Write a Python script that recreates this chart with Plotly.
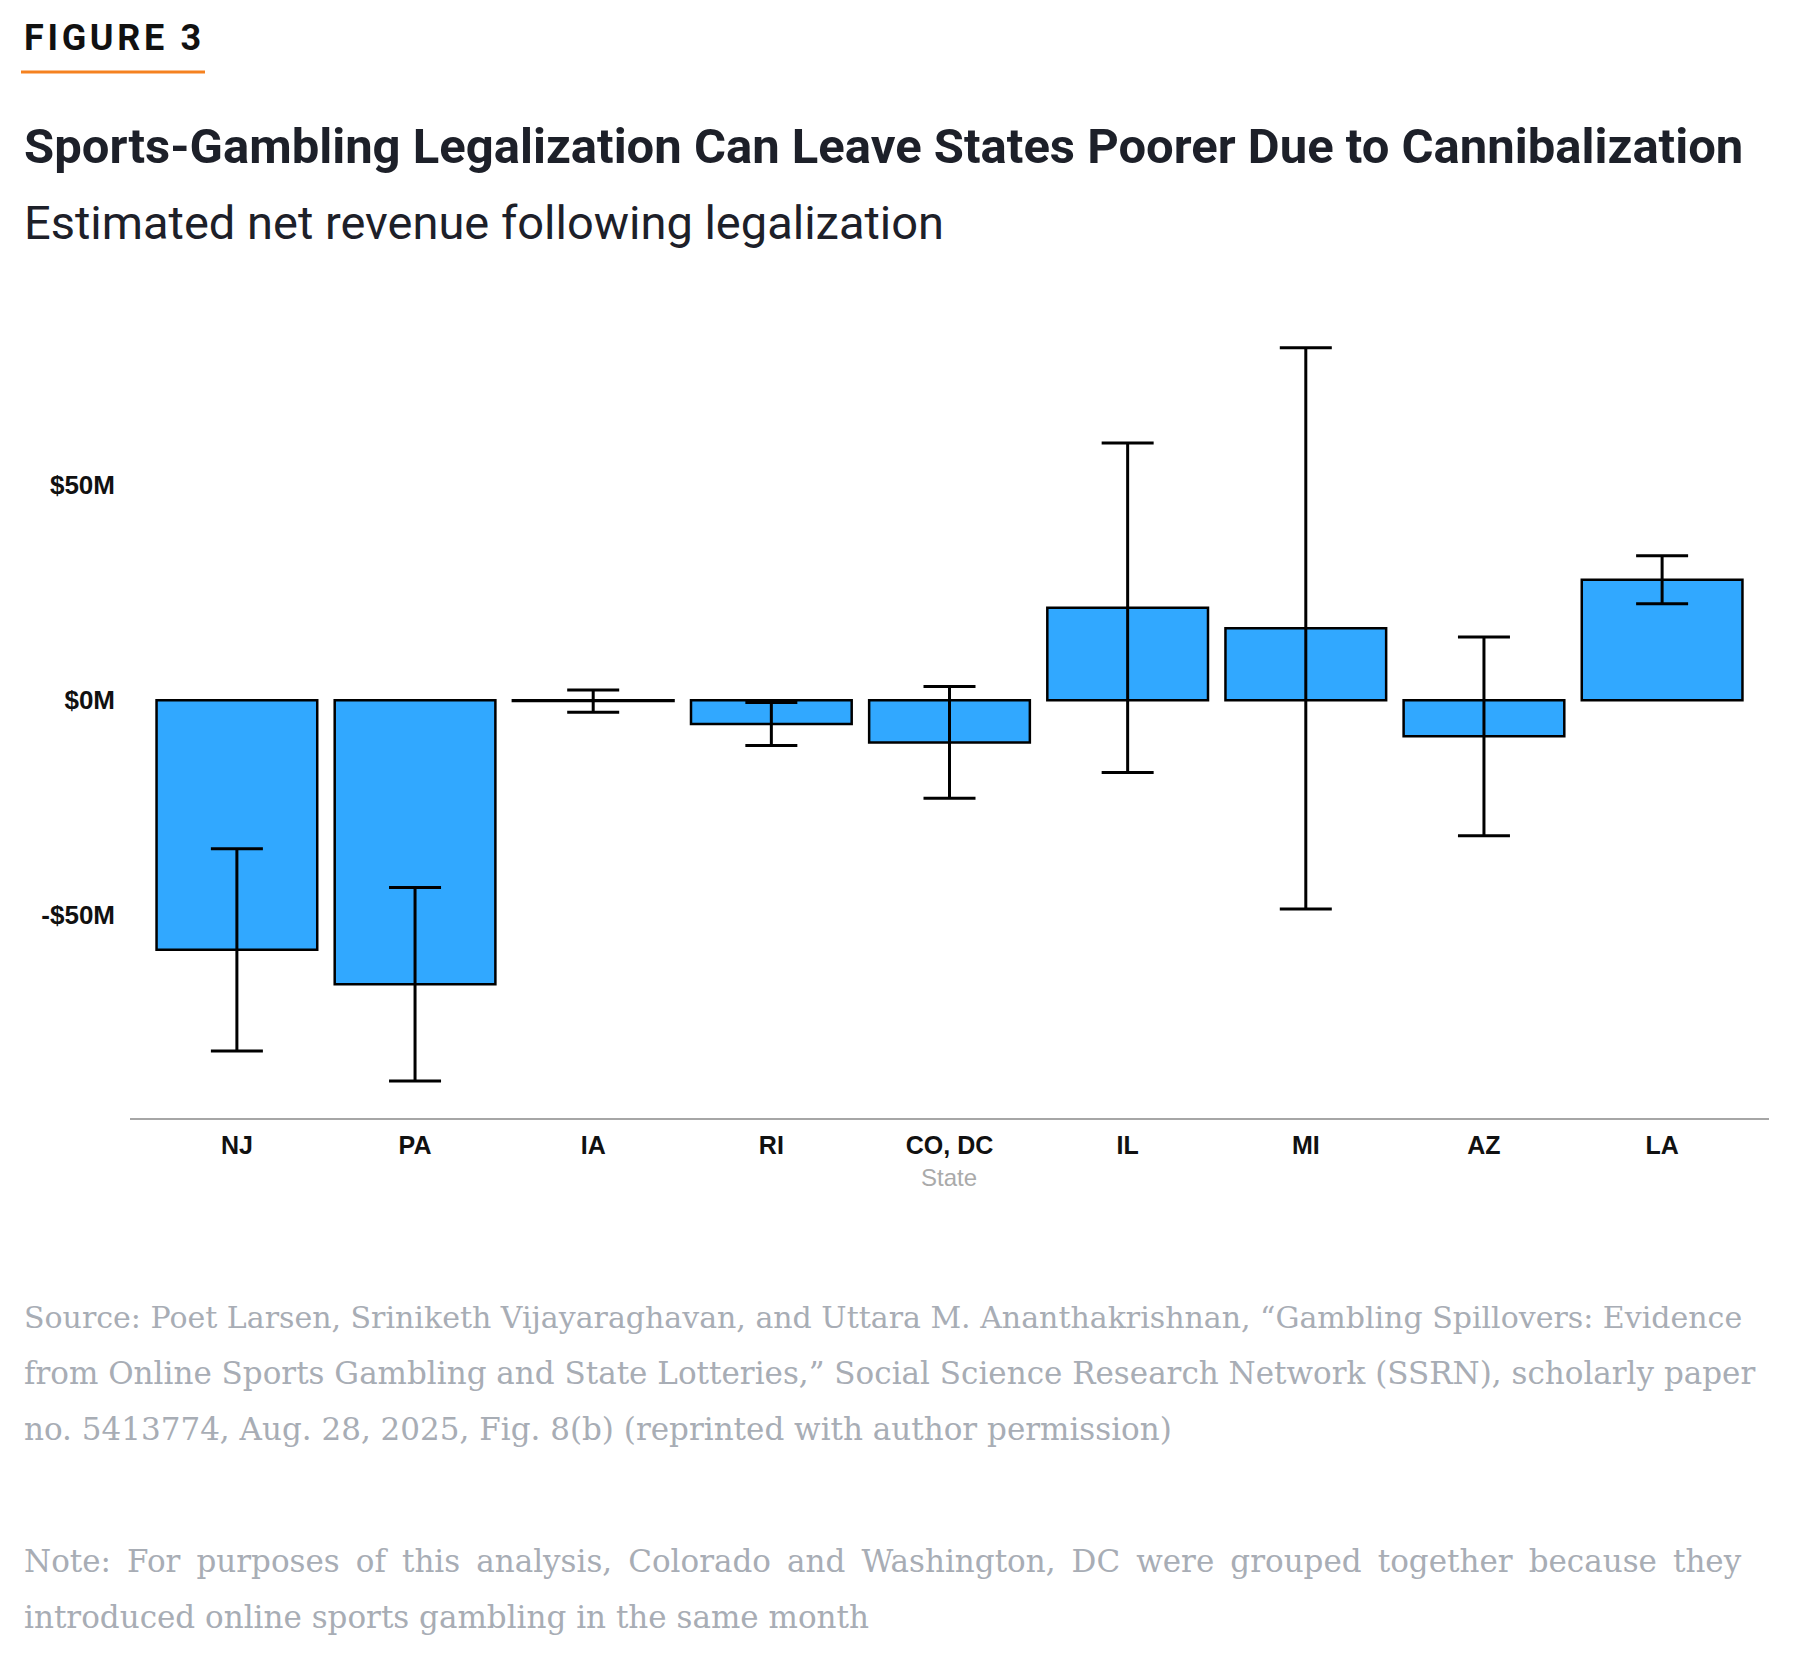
import plotly.graph_objects as go

states = ["NJ", "PA", "IA", "RI", "CO, DC", "IL", "MI", "AZ", "LA"]
net_revenue_m = [-58.0, -66.0, -0.2, -5.5, -9.8, 21.5, 16.7, -8.4, 28.0]
ci_halfwidth_m = [23.5, 22.5, 2.6, 5.0, 13.0, 38.3, 65.2, 23.1, 5.6]
ytick_vals = [-50, 0, 50]
ytick_text = ["-$50M", "$0M", "$50M"]

W, H = 1800, 1660
L, R = 130, 1769
T, B = 313, 1118


def px(x):
    return (x - L) / (R - L)


def py(y):
    return (B - y) / (B - T)


fig = go.Figure()
fig.add_trace(go.Bar(
    x=states,
    y=net_revenue_m,
    marker=dict(color="#31A8FF", line=dict(color="#000000", width=2.5)),
    error_y=dict(type="data", array=ci_halfwidth_m, visible=True,
                 color="#000000", thickness=3, width=26),
    hoverinfo="x+y",
))

HS = "\u200a"
fig_label = HS.join(list("FIGURE 3"))

annotations = [
    dict(text=f"<b>{fig_label}</b>", x=px(22), y=py(38), xanchor="left", yanchor="middle",
         font=dict(family="Roboto", size=36, color="#111111")),
    dict(text="<b>Sports-Gambling Legalization Can Leave States Poorer Due to Cannibalization</b>",
         x=px(22), y=py(147), xanchor="left", yanchor="middle",
         font=dict(family="Roboto", size=49, color="#1d2029")),
    dict(text="Estimated net revenue following legalization",
         x=px(22), y=py(222), xanchor="left", yanchor="middle",
         font=dict(family="Roboto", size=47, color="#1d2029")),
    dict(text="State", x=px(949), y=py(1177), xanchor="center", yanchor="middle",
         font=dict(family="Liberation Sans, Arial", size=24, color="#AAAAAA")),
]

source_lines = [
    "Source: Poet Larsen, Sriniketh Vijayaraghavan, and Uttara M. Ananthakrishnan, \u201cGambling Spillovers: Evidence",
    "from Online Sports Gambling and State Lotteries,\u201d Social Science Research Network (SSRN), scholarly paper",
    "no. 5413774, Aug. 28, 2025, Fig. 8(b) (reprinted with author permission)",
]
source_sizes = [30, 31, 31]
note_lines = [
    "Note: For purposes of this analysis, Colorado and Washington, DC were grouped together because they",
    "introduced online sports gambling in the same month",
]
note_justify = [True, False]

for i, line in enumerate(source_lines):
    annotations.append(dict(text=line, x=px(22), y=py(1317 + 56 * i), xanchor="left", yanchor="middle",
                            font=dict(family="DejaVu Serif", size=source_sizes[i], color="#A8ADB5")))
for i, line in enumerate(note_lines):
    txt = line.replace(" ", " \u2009") if note_justify[i] else line
    annotations.append(dict(text=txt, x=px(22), y=py(1561 + 56 * i), xanchor="left", yanchor="middle",
                            font=dict(family="DejaVu Serif", size=31, color="#A8ADB5")))
for a in annotations:
    a.update(xref="paper", yref="paper", showarrow=False)

fig.update_layout(
    width=W, height=H,
    margin=dict(l=L, r=W - R, t=T, b=H - B),
    paper_bgcolor="white", plot_bgcolor="white",
    showlegend=False,
    bargap=0.098,
    annotations=annotations,
    shapes=[dict(type="line", xref="paper", yref="paper",
                 x0=px(21), x1=px(205), y0=py(72), y1=py(72),
                 line=dict(color="#F58220", width=3))],
    xaxis=dict(range=[-0.6, 8.6], showgrid=False, zeroline=False, showline=True,
               linecolor="#A6A6A6", linewidth=2, ticks="", ticklabelstandoff=4,
               tickfont=dict(family="Liberation Sans, Arial", size=25, color="#111111"),
               fixedrange=True),
    yaxis=dict(range=[-97.1, 90], showgrid=False, zeroline=False, showline=False,
               tickvals=ytick_vals, ticktext=[f"<b>{t}</b>" for t in ytick_text],
               ticks="", ticklabelstandoff=14,
               tickfont=dict(family="Liberation Sans, Arial", size=26, color="#111111"),
               fixedrange=True),
)
fig.update_xaxes(tickvals=states, ticktext=[f"<b>{s}</b>" for s in states])

fig.write_html("out.html")
